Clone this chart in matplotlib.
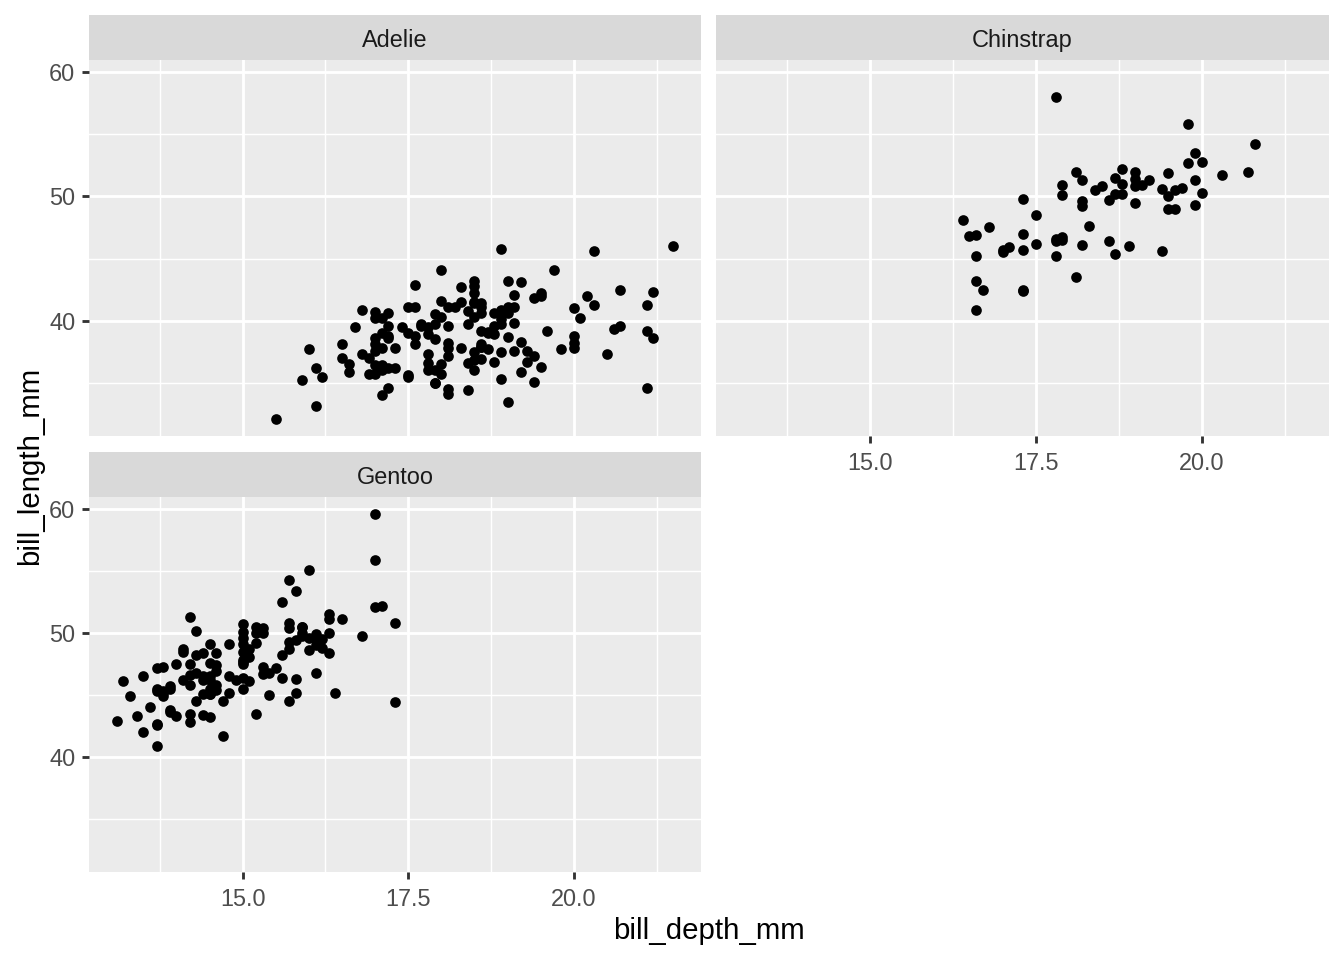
import matplotlib.pyplot as plt

plt.rcParams['font.family'] = ['Liberation Sans', 'DejaVu Sans']

# bill_depth_mm / bill_length_mm per species
adelie_depth = [18.7, 17.4, 18.0, 19.3, 20.6, 17.8, 19.6, 18.1, 20.2, 17.1, 17.3, 17.6, 21.2, 21.1, 17.8,
                19.0, 20.7, 18.4, 21.5, 18.3, 18.7, 19.2, 18.1, 17.2, 18.9, 18.6, 17.9, 18.6, 18.9, 16.7,
                18.1, 17.8, 18.9, 17.0, 21.1, 20.0, 18.5, 19.3, 19.1, 18.0, 18.4, 18.5, 19.7, 16.9, 18.8,
                19.0, 18.9, 17.9, 21.2, 17.7, 18.9, 17.9, 19.5, 18.1, 18.6, 17.5, 18.8, 16.6, 19.1, 16.9,
                21.1, 17.0, 18.2, 17.1, 18.0, 16.2, 19.1, 16.6, 19.4, 19.0, 18.4, 17.2, 18.9, 17.5, 18.5,
                16.8, 19.4, 16.1, 19.1, 17.2, 17.6, 18.8, 19.4, 17.8, 20.3, 19.5, 18.6, 19.2, 18.8, 18.0,
                18.1, 17.1, 18.1, 17.3, 18.9, 18.6, 18.5, 16.1, 18.5, 17.9, 20.0, 16.0, 20.0, 18.6, 18.9,
                17.2, 20.0, 17.0, 19.0, 16.5, 20.3, 17.7, 19.5, 20.7, 18.3, 17.0, 20.5, 17.0, 18.6, 17.2,
                19.8, 17.0, 18.5, 15.9, 19.0, 17.6, 18.3, 17.1, 18.0, 17.9, 19.2, 18.5, 18.5, 17.6, 17.5,
                17.5, 20.1, 16.5, 17.9, 17.1, 17.2, 15.5, 17.0, 16.8, 18.7, 18.6, 18.4, 17.8, 18.1, 17.1,
                18.5]
adelie_length = [39.1, 39.5, 40.3, 36.7, 39.3, 38.9, 39.2, 34.1, 42.0, 37.8, 37.8, 41.1, 38.6, 34.6, 36.6,
                 38.7, 42.5, 34.4, 46.0, 37.8, 37.7, 35.9, 38.2, 38.8, 35.3, 40.6, 40.5, 37.9, 40.5, 39.5,
                 37.2, 39.5, 40.9, 36.4, 39.2, 38.8, 42.2, 37.6, 39.8, 36.5, 40.8, 36.0, 44.1, 37.0, 39.6,
                 41.1, 37.5, 36.0, 42.3, 39.6, 40.1, 35.0, 42.0, 34.5, 41.4, 39.0, 40.6, 36.5, 37.6, 35.7,
                 41.3, 37.6, 41.1, 36.4, 41.6, 35.5, 41.1, 35.9, 41.8, 33.5, 39.7, 39.6, 45.8, 35.5, 42.8,
                 40.9, 37.2, 36.2, 42.1, 34.6, 42.9, 36.7, 35.1, 37.3, 41.3, 36.3, 36.9, 38.3, 38.9, 35.7,
                 41.1, 34.0, 39.6, 36.2, 40.8, 38.1, 40.3, 33.1, 43.2, 35.0, 41.0, 37.7, 37.8, 37.9, 39.7,
                 38.6, 38.2, 38.1, 43.2, 38.1, 45.6, 39.7, 42.2, 39.6, 42.7, 38.6, 37.3, 35.7, 41.1, 36.2,
                 37.7, 40.2, 41.4, 35.2, 40.6, 38.8, 41.5, 39.0, 44.1, 38.5, 43.1, 36.8, 37.5, 38.1, 41.1,
                 35.6, 40.2, 37.0, 39.7, 40.2, 40.6, 32.1, 40.7, 37.3, 39.0, 39.2, 36.6, 36.0, 37.8, 36.0,
                 41.5]

chinstrap_depth = [17.9, 19.5, 19.2, 18.7, 19.8, 17.8, 18.2, 18.2, 18.9, 19.9, 17.8, 20.3, 17.3, 18.1, 17.1,
                   19.6, 20.0, 17.8, 18.6, 18.2, 17.3, 17.5, 16.6, 19.4, 17.9, 19.0, 18.4, 19.0, 17.8, 20.0,
                   16.6, 20.8, 16.7, 18.8, 18.6, 16.8, 18.3, 20.7, 16.6, 19.9, 19.5, 17.5, 19.1, 17.0, 17.9,
                   18.5, 17.9, 19.6, 18.7, 17.3, 16.4, 19.0, 17.3, 19.7, 17.3, 18.8, 16.6, 19.9, 18.8, 19.4,
                   19.5, 16.5, 17.0, 19.8, 18.1, 18.2, 19.0, 18.7]
chinstrap_length = [46.5, 50.0, 51.3, 45.4, 52.7, 45.2, 46.1, 51.3, 46.0, 51.3, 46.6, 51.7, 47.0, 52.0, 45.9,
                    50.5, 50.3, 58.0, 46.4, 49.2, 42.4, 48.5, 43.2, 50.6, 46.7, 52.0, 50.5, 49.5, 46.4, 52.8,
                    40.9, 54.2, 42.5, 51.0, 49.7, 47.5, 47.6, 52.0, 46.9, 53.5, 49.0, 46.2, 50.9, 45.5, 50.9,
                    50.8, 50.1, 49.0, 51.5, 49.8, 48.1, 51.4, 45.7, 50.7, 42.5, 52.2, 45.2, 49.3, 50.2, 45.6,
                    51.9, 46.8, 45.7, 55.8, 43.5, 49.6, 50.8, 50.2]

gentoo_depth = [13.2, 16.3, 14.1, 15.2, 14.5, 13.5, 14.6, 15.3, 13.4, 15.4, 13.7, 16.1, 13.7, 14.6, 14.6,
                15.7, 13.5, 15.2, 14.5, 15.1, 14.3, 14.5, 14.5, 15.8, 13.1, 15.1, 14.3, 15.0, 14.3, 15.3,
                15.3, 14.2, 14.5, 17.0, 14.8, 16.3, 13.7, 17.3, 13.6, 15.7, 13.7, 16.0, 13.7, 15.0, 15.9,
                13.9, 13.9, 15.9, 13.3, 15.8, 14.2, 14.1, 14.4, 15.0, 14.4, 15.4, 13.9, 15.0, 14.5, 15.3,
                13.8, 14.9, 13.9, 15.7, 14.2, 16.8, 14.4, 16.2, 14.2, 15.0, 15.0, 15.6, 15.6, 14.8, 15.0,
                16.0, 14.2, 16.3, 13.8, 16.4, 14.5, 15.6, 14.6, 15.9, 13.8, 17.3, 14.4, 14.2, 14.0, 17.0,
                15.0, 17.1, 14.5, 16.1, 14.7, 15.7, 15.8, 14.6, 14.4, 16.5, 15.0, 17.0, 15.5, 15.0, 13.8,
                16.1, 14.7, 15.8, 14.0, 15.1, 15.2, 15.9, 15.2, 16.3, 14.1, 16.0, 15.7, 16.2, 13.7, 14.3,
                15.7, 14.8, 16.1]
gentoo_length = [46.1, 50.0, 48.7, 50.0, 47.6, 46.5, 45.4, 46.7, 43.3, 46.8, 40.9, 49.0, 45.5, 48.4, 45.8,
                 49.3, 42.0, 49.2, 46.2, 48.7, 50.2, 45.1, 46.5, 46.3, 42.9, 46.1, 44.5, 47.8, 48.2, 50.0,
                 47.3, 42.8, 45.1, 59.6, 49.1, 48.4, 42.6, 44.4, 44.0, 48.7, 42.7, 49.6, 45.3, 49.6, 50.5,
                 43.6, 45.5, 50.5, 44.9, 45.2, 46.6, 48.5, 45.1, 50.1, 46.5, 45.0, 43.8, 45.5, 43.2, 50.4,
                 45.3, 46.2, 45.7, 54.3, 45.8, 49.8, 46.2, 49.5, 43.5, 50.7, 47.7, 46.4, 48.2, 46.5, 46.4,
                 48.6, 47.5, 51.1, 45.2, 45.2, 49.1, 52.5, 47.4, 50.0, 44.9, 50.8, 43.4, 51.3, 47.5, 52.1,
                 47.5, 52.2, 45.5, 49.5, 44.5, 50.8, 49.4, 46.9, 48.4, 51.1, 48.5, 55.9, 47.2, 49.1, 47.3,
                 46.8, 41.7, 53.4, 43.3, 48.1, 50.5, 49.8, 43.5, 51.5, 46.2, 55.1, 44.5, 48.8, 47.2, 46.8,
                 50.4, 45.2, 49.9]

x_major = [15.0, 17.5, 20.0]
x_minor = [13.75, 16.25, 18.75, 21.25]
y_major = [40, 50, 60]
y_minor = [35, 45, 55]
xlim = (12.68, 21.92)
ylim = (30.725, 60.975)

W, H = 1344, 960
fig = plt.figure(figsize=(7, 5), dpi=192)

def px_axes(x0, y0, x1, y1):
    return fig.add_axes([x0 / W, 1 - y1 / H, (x1 - x0) / W, (y1 - y0) / H])

def panel(box, strip, title, xs, ys, show_x, show_y):
    ax = px_axes(*box)
    ax.set_facecolor('#EBEBEB')
    ax.set_xticks(x_major)
    ax.set_xticks(x_minor, minor=True)
    ax.set_yticks(y_major)
    ax.set_yticks(y_minor, minor=True)
    ax.set_xticklabels(['15.0', '17.5', '20.0'] if show_x else [])
    ax.set_yticklabels(['40', '50', '60'] if show_y else [])
    ax.grid(True, which='major', color='white', linewidth=1.07)
    ax.grid(True, which='minor', color='white', linewidth=0.53)
    ax.set_axisbelow(True)
    for s in ax.spines.values():
        s.set_visible(False)
    ax.tick_params(which='minor', length=0)
    ax.tick_params(axis='x', which='major', length=2.75 if show_x else 0, width=1.07,
                   color='#333333', labelcolor='#4D4D4D', labelsize=8.8, pad=3.2)
    ax.tick_params(axis='y', which='major', length=2.75 if show_y else 0, width=1.07,
                   color='#333333', labelcolor='#4D4D4D', labelsize=8.8, pad=2.4)
    ax.scatter(xs, ys, s=16, color='black', linewidths=0, zorder=3)
    ax.set_xlim(*xlim)
    ax.set_ylim(*ylim)

    sax = px_axes(*strip)
    sax.set_facecolor('#D9D9D9')
    sax.set_xticks([])
    sax.set_yticks([])
    for s in sax.spines.values():
        s.set_visible(False)
    sax.text(0.5, 0.44, title, ha='center', va='center', fontsize=8.8, color='#1A1A1A',
             transform=sax.transAxes)
    return ax

panel((89, 60, 701, 436), (89, 15, 701, 60), 'Adelie', adelie_depth, adelie_length, False, True)
panel((716, 60, 1329, 436), (716, 15, 1329, 60), 'Chinstrap', chinstrap_depth, chinstrap_length, True, False)
panel((89, 497, 701, 872), (89, 452, 701, 497), 'Gentoo', gentoo_depth, gentoo_length, True, True)

fig.text(709 / W, 1 - 931 / H, 'bill_depth_mm', ha='center', va='center', fontsize=11)
fig.text(30 / W, 1 - 466 / H, 'bill_length_mm', ha='center', va='center', fontsize=11, rotation=90)

fig.savefig('out.png', dpi=192)
